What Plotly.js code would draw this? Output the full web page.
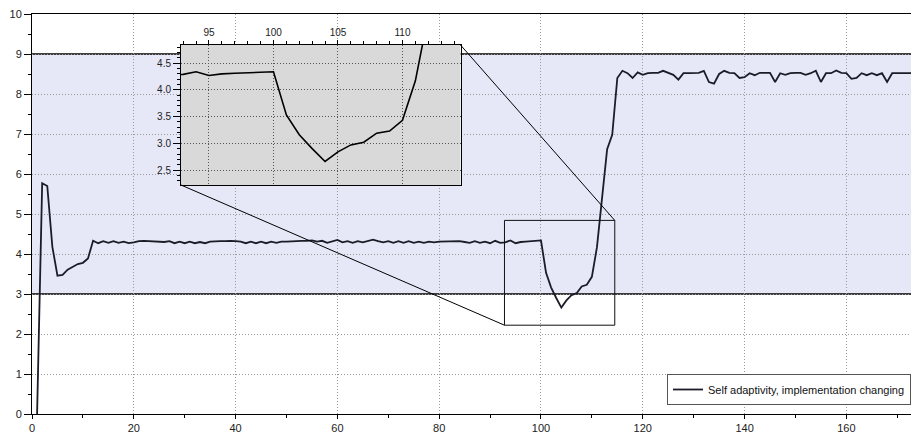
<!DOCTYPE html>
<html><head><meta charset="utf-8">
<script src="https://cdn.plot.ly/plotly-3.0.1.min.js"></script>
<style>html,body{margin:0;padding:0;background:#fff}#chart{width:911px;height:433px}</style>
</head><body><div id="chart"></div>
<script>
const xValues = [1,2,3,4,5,6,7,8,9,10,11,12,13,14,15,16,17,18,19,20,
21,22,23,24,25,26,27,28,29,30,31,32,33,34,35,36,37,38,39,40,
41,42,43,44,45,46,47,48,49,50,51,52,53,54,55,56,57,58,59,60,
61,62,63,64,65,66,67,68,69,70,71,72,73,74,75,76,77,78,79,80,
81,82,83,84,85,86,87,88,89,90,91,92,93,94,95,96,97,98,99,100,
101,102,103,104,105,106,107,108,109,110,111,112,113,114,115,116,117,118,119,120,
121,122,123,124,125,126,127,128,129,130,131,132,133,134,135,136,137,138,139,140,
141,142,143,144,145,146,147,148,149,150,151,152,153,154,155,156,157,158,159,160,
161,162,163,164,165,166,167,168,169,170,171,172,173];
const yValues = [0,5.77,5.70,4.18,3.46,3.48,3.61,3.68,3.75,3.78,3.89,4.33,4.27,4.32,4.28,4.32,4.28,4.31,4.27,4.29,
4.32,4.33,4.32,4.31,4.31,4.30,4.32,4.27,4.31,4.27,4.31,4.27,4.30,4.27,4.31,4.32,4.32,4.32,4.33,4.32,
4.31,4.27,4.31,4.27,4.31,4.27,4.31,4.28,4.31,4.31,4.32,4.32,4.33,4.33,4.34,4.31,4.33,4.28,4.32,4.35,
4.29,4.32,4.28,4.32,4.29,4.32,4.36,4.32,4.29,4.32,4.28,4.32,4.28,4.32,4.28,4.31,4.28,4.31,4.29,4.31,
4.31,4.31,4.32,4.32,4.30,4.28,4.32,4.28,4.31,4.27,4.33,4.28,4.29,4.34,4.27,4.30,4.31,4.32,4.32,4.34,
3.53,3.16,2.90,2.66,2.84,2.97,3.02,3.19,3.23,3.43,4.17,5.40,6.62,6.98,8.40,8.58,8.52,8.40,8.54,8.48,
8.52,8.53,8.53,8.58,8.53,8.48,8.36,8.52,8.52,8.52,8.53,8.58,8.30,8.26,8.50,8.58,8.53,8.52,8.40,8.42,
8.52,8.47,8.53,8.53,8.53,8.30,8.52,8.48,8.52,8.53,8.53,8.48,8.52,8.58,8.30,8.52,8.52,8.59,8.53,8.52,
8.38,8.40,8.52,8.47,8.52,8.47,8.52,8.30,8.52,8.52,8.52,8.52,8.52];
const seriesName = 'Self adaptivity, implementation changing';
const bandRange = [3, 9];
const mainXRange = [0, 172.7];
const mainYRange = [0, 10];
const insetXRange = [92.83, 114.5];
const insetYRange = [2.22, 4.84];
const insetDomainX = [0.1695, 0.4875];
const insetDomainY = [0.5725, 0.9225];

const FONT = 'Liberation Sans, Arial, Helvetica, sans-serif';
const GRID_DASH = '1px,2px';
const toPX = v => (v - mainXRange[0]) / (mainXRange[1] - mainXRange[0]);
const toPY = v => (v - mainYRange[0]) / (mainYRange[1] - mainYRange[0]);

const traces = [
  {x: xValues, y: yValues, type: 'scatter', mode: 'lines', name: seriesName,
   line: {color: '#1c1c28', width: 1.8}, xaxis: 'x', yaxis: 'y', showlegend: true},
  {x: xValues, y: yValues, type: 'scatter', mode: 'lines', name: seriesName,
   line: {color: '#000', width: 1.6}, xaxis: 'x2', yaxis: 'y2', showlegend: false}
];

const shapes = [
  {type: 'rect', xref: 'x', yref: 'y', x0: mainXRange[0], x1: mainXRange[1], y0: bandRange[0], y1: bandRange[1],
   fillcolor: '#e6e8f8', line: {width: 0}, layer: 'below'},
  {type: 'line', xref: 'x', yref: 'y', x0: mainXRange[0], x1: mainXRange[1], y0: bandRange[0], y1: bandRange[0],
   line: {color: '#000', width: 1.4}, layer: 'below'},
  {type: 'line', xref: 'x', yref: 'y', x0: mainXRange[0], x1: mainXRange[1], y0: bandRange[1], y1: bandRange[1],
   line: {color: '#000', width: 1.4}, layer: 'below'},
  {type: 'rect', xref: 'x2', yref: 'y2', x0: insetXRange[0], x1: insetXRange[1], y0: insetYRange[0], y1: insetYRange[1],
   fillcolor: '#d9d9d9', line: {width: 0}, layer: 'below'},
  {type: 'rect', xref: 'x', yref: 'y', x0: insetXRange[0], x1: insetXRange[1], y0: insetYRange[0], y1: insetYRange[1],
   line: {color: '#111', width: 1}, layer: 'above'},
  {type: 'line', xref: 'paper', yref: 'paper', x0: insetDomainX[0], y0: insetDomainY[0],
   x1: toPX(insetXRange[0]), y1: toPY(insetYRange[0]), line: {color: '#000', width: 1}, layer: 'above'},
  {type: 'line', xref: 'paper', yref: 'paper', x0: insetDomainX[1], y0: insetDomainY[1],
   x1: toPX(insetXRange[1]), y1: toPY(insetYRange[1]), line: {color: '#000', width: 1}, layer: 'above'}
];

const layout = {
  width: 911, height: 433,
  margin: {l: 32, r: 0, t: 14, b: 19, pad: 0},
  paper_bgcolor: '#fff', plot_bgcolor: '#fff',
  font: {family: FONT, size: 10, color: '#222'},
  showlegend: true,
  legend: {x: 1, xanchor: 'right', y: 0.0225, yanchor: 'bottom', bgcolor: '#fff',
           bordercolor: '#555', borderwidth: 1, font: {family: FONT, size: 11, color: '#111'},
           itemwidth: 30, tracegroupgap: 0},
  xaxis: {domain: [0, 1], range: mainXRange, dtick: 20, tick0: 0, ticks: 'outside', ticklen: 4,
          tickcolor: '#000', showline: true, linecolor: '#000', linewidth: 1, mirror: true,
          showgrid: true, gridcolor: '#9a9a9a', griddash: GRID_DASH, gridwidth: 1, zeroline: false,
          minor: {dtick: 10, ticklen: 3, tickcolor: '#000', ticks: 'outside', showgrid: false},
          tickfont: {family: FONT, size: 11, color: '#222'}},
  yaxis: {domain: [0, 1], range: mainYRange, dtick: 1, tick0: 0, ticks: 'outside', ticklen: 7,
          tickcolor: '#000', showline: true, linecolor: '#000', linewidth: 1,
          showgrid: true, gridcolor: '#9a9a9a', griddash: GRID_DASH, gridwidth: 1, zeroline: false,
          minor: {dtick: 0.5, ticklen: 3, tickcolor: '#000', ticks: 'outside', showgrid: false},
          tickfont: {family: FONT, size: 11, color: '#222'}},
  xaxis2: {domain: insetDomainX, anchor: 'y2', side: 'top', range: insetXRange, dtick: 5, tick0: 0,
           ticks: 'outside', ticklen: 4, tickcolor: '#000', showline: true, linecolor: '#000', mirror: true,
           showgrid: true, gridcolor: '#555', griddash: GRID_DASH, zeroline: false,
           minor: {dtick: 1, ticklen: 3, tickcolor: '#000', ticks: 'outside', showgrid: false},
           tickfont: {family: FONT, size: 10, color: '#222'}},
  yaxis2: {domain: insetDomainY, anchor: 'x2', range: insetYRange, dtick: 0.5, tick0: 0, tickformat: '.1f',
           ticks: 'outside', ticklen: 7, tickcolor: '#000', showline: true, linecolor: '#000', mirror: true,
           showgrid: true, gridcolor: '#555', griddash: GRID_DASH, zeroline: false,
           minor: {dtick: 0.1, ticklen: 3, tickcolor: '#000', ticks: 'outside', showgrid: false},
           tickfont: {family: FONT, size: 10, color: '#222'}},
  shapes: shapes
};

Plotly.newPlot('chart', traces, layout, {staticPlot: true, displayModeBar: false});
</script>
</body></html>
